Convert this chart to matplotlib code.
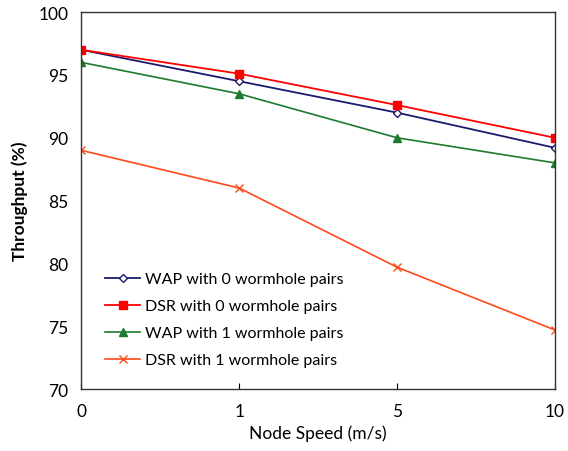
import matplotlib
matplotlib.use("Agg")
import matplotlib.pyplot as plt

plt.rcParams['font.family'] = ['Lato', 'DejaVu Sans']

speeds = ['0', '1', '5', '10']
wap0 = [97.0, 94.5, 92.0, 89.2]
dsr0 = [97.0, 95.1, 92.6, 90.0]
wap1 = [96.0, 93.5, 90.0, 88.0]
dsr1 = [89.0, 86.0, 79.7, 74.7]
labels = ['WAP with 0 wormhole pairs', 'DSR with 0 wormhole pairs',
          'WAP with 1 wormhole pairs', 'DSR with 1 wormhole pairs']

fig = plt.figure(figsize=(5.68, 4.52), dpi=100)
ax = fig.add_axes([0.143, 0.137, 0.834, 0.834])

x = list(range(len(speeds)))
ax.plot(x, wap0, color='#1a1a6e', lw=1.3, marker='D', ms=4.5,
        mfc='white', mec='#1a1a6e', mew=1.0, label=labels[0])
ax.plot(x, dsr0, color='#ff0000', lw=1.3, marker='s', ms=6,
        mfc='#ff0000', mec='#ff0000', label=labels[1])
ax.plot(x, wap1, color='#1e7a2e', lw=1.2, marker='^', ms=6,
        mfc='#1e7a2e', mec='#1e7a2e', label=labels[2])
ax.plot(x, dsr1, color='#ff4a1a', lw=1.2, marker='x', ms=6,
        mew=1.0, label=labels[3])

ax.set_xlim(0, 3)
ax.set_ylim(70, 100)
ax.set_xticks(x)
ax.set_xticklabels(speeds)
ax.set_yticks(range(70, 101, 5))
ax.tick_params(axis='x', direction='in', length=4, pad=10, labelsize=12.5)
ax.tick_params(axis='y', length=0, pad=9, labelsize=12.5)
for s in ax.spines.values():
    s.set_color('#333333')
    s.set_linewidth(1.0)

ax.set_xlabel('Node Speed (m/s)', fontsize=12.5, labelpad=4)
ax.set_ylabel('Throughput (%)', fontsize=12.5, fontweight='bold', labelpad=8)

ax.legend(loc='lower left', bbox_to_anchor=(0.02, 0.02), frameon=False,
          fontsize=11.5, handlelength=2.2, handletextpad=0.3, labelspacing=0.8)

fig.savefig('out.png', dpi=100)
